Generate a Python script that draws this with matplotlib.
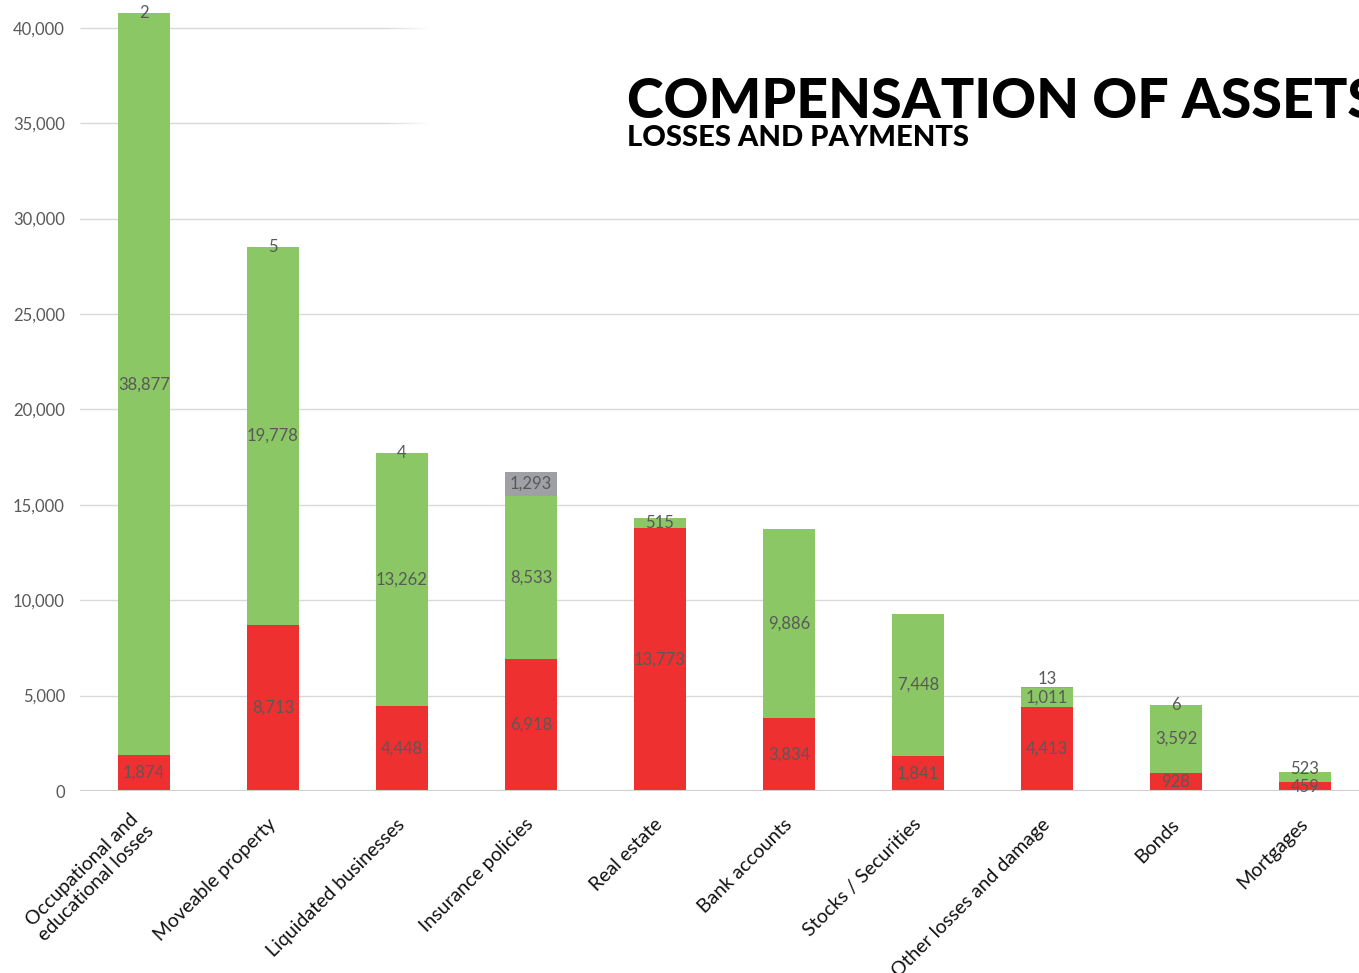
import numpy as np
import matplotlib
matplotlib.use("Agg")
import matplotlib.pyplot as plt
from matplotlib.collections import LineCollection

categories = [
    "Occupational and\neducational losses",
    "Moveable property",
    "Liquidated businesses",
    "Insurance policies",
    "Real estate",
    "Bank accounts",
    "Stocks / Securities",
    "Other losses and damage",
    "Bonds",
    "Mortgages",
]
red_vals = [1874, 8713, 4448, 6918, 13773, 3834, 1841, 4413, 928, 459]
green_vals = [38877, 19778, 13262, 8533, 515, 9886, 7448, 1011, 3592, 523]
gray_vals = [2, 5, 4, 1293, 0, 0, 0, 13, 6, 0]
yticks = [0, 5000, 10000, 15000, 20000, 25000, 30000, 35000, 40000]

RED = "#ee3030"
GREEN = "#8bc765"
GRAY = "#9fa0a5"
LABEL = "#595959"
FONT = "Lato"

W, H = 1359, 973
fig = plt.figure(figsize=(W / 100, H / 100), dpi=100)
left_px, zero_px = 79.5, 791
ax = fig.add_axes([left_px / W, (H - zero_px) / H, 1 - left_px / W, zero_px / H])

step = 129.0
x = np.arange(len(categories))
ax.set_xlim(-0.5, (W - left_px) / step - 0.5)
ax.set_ylim(0, zero_px / 95.4 * 5000)

red = np.array(red_vals)
green = np.array(green_vals)
gray = np.array(gray_vals)

# grid lines: the top two fade out under the title
for y in yticks[1:]:
    if y >= 35000:
        x0 = (390 - left_px) / step - 0.5
        x1 = (430 - left_px) / step - 0.5
        ax.hlines(y, -0.5, x0, color="#d9d9d9", lw=1.0, zorder=0)
        xs = np.linspace(x0, x1, 31)
        segs = [[(xs[i], y), (xs[i + 1], y)] for i in range(30)]
        alphas = np.linspace(1, 0, 30)
        cols = [(0.851, 0.851, 0.851, a) for a in alphas]
        ax.add_collection(LineCollection(segs, colors=cols, lw=1.0, zorder=0))
    else:
        ax.axhline(y, color="#d9d9d9", lw=1.0, zorder=0)
ax.axhline(0, color="#d0d0d0", lw=1.5, zorder=3)

w = 52 / step
b1 = ax.bar(x, red, width=w, color=RED, zorder=2)
b2 = ax.bar(x, green, width=w, bottom=red, color=GREEN, zorder=2)
b3 = ax.bar(x, gray, width=w, bottom=red + green, color=GRAY, zorder=2)

def fmt(vals):
    return [f"{v:,}" if v else "" for v in vals]

all_texts = []
for cont, vals in [(b1, red_vals), (b2, green_vals), (b3, gray_vals)]:
    texts = ax.bar_label(cont, labels=fmt(vals), label_type="center",
                         color=LABEL, fontsize=12, family=FONT)
    for t in texts:
        t.set_clip_on(True)
    all_texts.append(texts)

# nudge crowded labels up a little, as the original does
all_texts[2][7].xyann = (0, 6)
all_texts[1][9].xyann = (0, 6)

for s in ax.spines.values():
    s.set_visible(False)

ax.set_yticks(yticks)
ax.set_yticklabels([f"{v:,}" for v in yticks], color=LABEL, fontsize=12, family=FONT)
ax.tick_params(axis="y", length=0, pad=10.5)
ax.set_xticks(x)
ax.set_xticklabels(categories, rotation=45, ha="right", va="center",
                   rotation_mode="anchor", multialignment="center",
                   fontsize=14, family=FONT, color="#111111")
ax.tick_params(axis="x", length=0, pad=22)

fig.text(627 / W, 1 - 118 / H, "COMPENSATION OF ASSETS", fontsize=40,
         family=FONT, fontweight="black", color="black", va="baseline")
fig.text(627 / W, 1 - 146 / H, "LOSSES AND PAYMENTS", fontsize=21,
         family=FONT, fontweight="black", color="black", va="baseline")

fig.savefig("out.png", dpi=100)
